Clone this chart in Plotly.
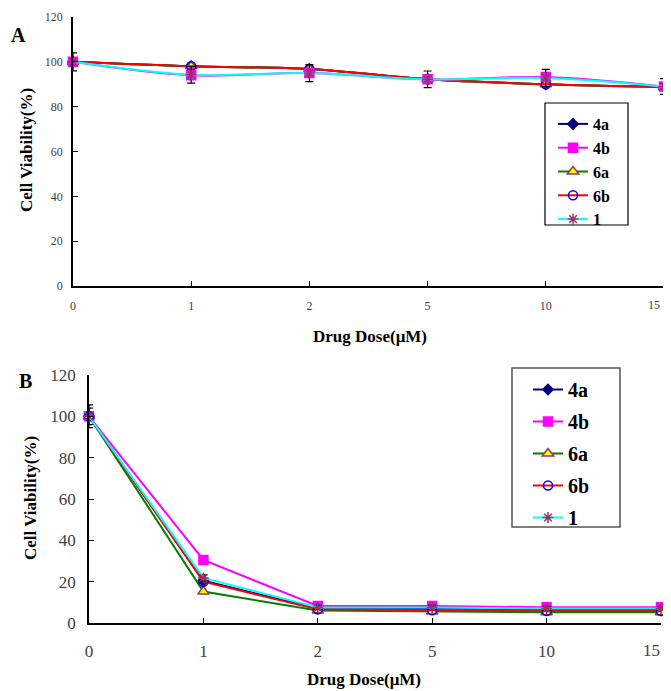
import plotly.graph_objects as go

doses = ["0", "1", "2", "5", "10", "15"]
series_names = ["4a", "4b", "6a", "6b", "1"]

# Panel A values (%)
a_4a = [100, 98.0, 96.8, 92.2, 90.0, 88.8]
a_4b = [100, 94.0, 95.0, 92.2, 93.2, 89.0]
a_6a = [100, 98.0, 96.8, 92.2, 90.0, 88.8]
a_6b = [100, 98.0, 96.8, 92.2, 90.0, 88.8]
a_1 = [100, 94.2, 95.0, 92.2, 92.8, 89.0]
a_err = [4.0, 3.7, 3.8, 3.7, 3.8, 3.5]

# Panel B values (%)
b_4a = [100, 20.5, 7.0, 7.0, 6.6, 6.6]
b_4b = [100, 30.5, 8.2, 8.2, 7.6, 7.6]
b_6a = [100, 15.2, 6.0, 5.6, 5.2, 5.2]
b_6b = [100, 20.0, 6.6, 6.2, 5.8, 5.8]
b_1 = [100, 21.8, 7.5, 7.5, 7.0, 7.0]
b_err1 = [4.0, 1.5, 1.0, 1.0, 1.0, 1.0]
b_err2 = [5.5, 1.5, 1.0, 1.0, 1.0, 1.0]

styles = {
    "4a": dict(line="#000080", symbol="diamond", mcolor="#000080", mline="#000080", size=8),
    "4b": dict(line="#FF00FF", symbol="square", mcolor="#FF00FF", mline="#FF00FF", size=9),
    "6a": dict(line="#008000", symbol="triangle-up", mcolor="#FFFF00", mline="#993366", size=10),
    "6b": dict(line="#FF0000", symbol="circle-open", mcolor="#0000FF", mline="#0000FF", size=9),
    "1": dict(line="#00FFFF", symbol="asterisk-open", mcolor="#993366", mline="#993366", size=9),
}

fig = go.Figure()

panelA = {"4a": a_4a, "4b": a_4b, "6a": a_6a, "6b": a_6b, "1": a_1}
panelB = {"4a": b_4a, "4b": b_4b, "6a": b_6a, "6b": b_6b, "1": b_1}

def add(vals, name, xa, ya, legend, shape, err=None):
    s = styles[name]
    marker = dict(symbol=s["symbol"], size=s["size"], color=s["mcolor"],
                  line=dict(color=s["mline"], width=1.5))
    kw = {}
    if err is not None:
        kw["error_y"] = dict(type="data", array=err, visible=True, color="black",
                             thickness=1.2, width=4)
    fig.add_trace(go.Scatter(
        x=doses, y=vals, name=name, mode="lines+markers",
        line=dict(color=s["line"], width=2, shape=shape),
        marker=marker, xaxis=xa, yaxis=ya, legend=legend,
        legendgroup=legend + name, cliponaxis=False, **kw))

for n in ["4a", "6a", "6b", "4b", "1"]:
    add(panelA[n], n, "x", "y", "legend", "spline",
        err=a_err if n == "1" else None)
for n in ["4a", "4b", "6a", "6b", "1"]:
    err = b_err1 if n == "1" else (b_err2 if n == "4b" else None)
    add(panelB[n], n, "x2", "y2", "legend2", "linear", err=err)

order = ["4a", "4b", "6a", "6b", "1"]
for t in fig.data:
    t.legendrank = order.index(t.name) + 1

# page body has an 8px margin: figure occupies the window minus that offset
OFF = 8
W, H = 671 - OFF, 691 - OFF
def fx(p): return (p - OFF) / W
def fy(p): return 1 - (p - OFF) / H

serif = "Liberation Serif"
axis_common = dict(showline=True, linecolor="black", linewidth=1.5, ticks="inside",
                   ticklen=5, tickcolor="black", showgrid=False, zeroline=False,
                   automargin=False)

# last tick label is drawn as an annotation so that it stays inside the visible page
tick_text = doses[:-1] + [""]

fig.update_layout(
    width=W, height=H, margin=dict(l=0, r=0, t=0, b=0, autoexpand=False),
    paper_bgcolor="white", plot_bgcolor="white",
    xaxis=dict(domain=[fx(73), fx(664)], type="category", range=[0, 5],
               tickmode="array", tickvals=doses, ticktext=tick_text,
               anchor="y", tickfont=dict(family=serif, size=12, color="#404040"),
               ticklabelstandoff=8, **axis_common),
    yaxis=dict(domain=[fy(286), fy(17)], range=[0, 120], dtick=20, anchor="x",
               tickfont=dict(family=serif, size=12, color="#404040"),
               ticklabelstandoff=6, **axis_common),
    xaxis2=dict(domain=[fx(89), fx(661)], type="category", range=[0, 5],
                tickmode="array", tickvals=doses, ticktext=tick_text,
                anchor="y2", tickfont=dict(family=serif, size=17, color="#404040"),
                ticklabelstandoff=12, **axis_common),
    yaxis2=dict(domain=[fy(623), fy(375)], range=[0, 120], dtick=20, anchor="x2",
                tickfont=dict(family=serif, size=17, color="#404040"),
                ticklabelstandoff=8, **axis_common),
    legend=dict(x=fx(553), y=fy(107), xanchor="left", yanchor="top",
                bgcolor="rgba(0,0,0,0)", borderwidth=0,
                font=dict(family=serif, size=16, color="black", weight="bold"),
                tracegroupgap=0, itemwidth=30),
    legend2=dict(x=fx(528), y=fy(370), xanchor="left", yanchor="top",
                 bgcolor="rgba(0,0,0,0)", borderwidth=0,
                 font=dict(family=serif, size=20, color="black", weight="bold"),
                 tracegroupgap=3, itemwidth=30),
    showlegend=True,
)

# legend frames
fig.add_shape(type="rect", xref="paper", yref="paper",
              x0=fx(545), x1=fx(628), y0=fy(225), y1=fy(103),
              line=dict(color="black", width=1.2), fillcolor="white", layer="below")
fig.add_shape(type="rect", xref="paper", yref="paper",
              x0=fx(512), x1=fx(620), y0=fy(527), y1=fy(368),
              line=dict(color="#555555", width=1.5), fillcolor="white", layer="below")

ann = [
    dict(text="<b>A</b>", x=fx(18), y=fy(35), font=dict(size=20)),
    dict(text="<b>B</b>", x=fx(25), y=fy(381), font=dict(size=20)),
    dict(text="<b>Drug Dose(μM)</b>", x=fx(370), y=fy(336), font=dict(size=17)),
    dict(text="<b>Drug Dose(μM)</b>", x=fx(364), y=fy(679), font=dict(size=17)),
    dict(text="<b>Cell Viability(%)</b>", x=fx(27), y=fy(150), font=dict(size=17), textangle=-90),
    dict(text="<b>Cell Viability(%)</b>", x=fx(30), y=fy(498), font=dict(size=17), textangle=-90),
]
for a in ann:
    a["font"].update(family=serif, color="black")
    fig.add_annotation(xref="paper", yref="paper", showarrow=False,
                       xanchor="center", yanchor="middle", **a)

# last dose labels, right-aligned at the visible edge
fig.add_annotation(xref="paper", yref="paper", showarrow=False, text=doses[-1],
                   x=fx(662), y=fy(305), xanchor="right", yanchor="middle",
                   font=dict(family=serif, size=12, color="#404040"))
fig.add_annotation(xref="paper", yref="paper", showarrow=False, text=doses[-1],
                   x=fx(662), y=fy(650), xanchor="right", yanchor="middle",
                   font=dict(family=serif, size=17, color="#404040"))

fig.write_html("out.html")
